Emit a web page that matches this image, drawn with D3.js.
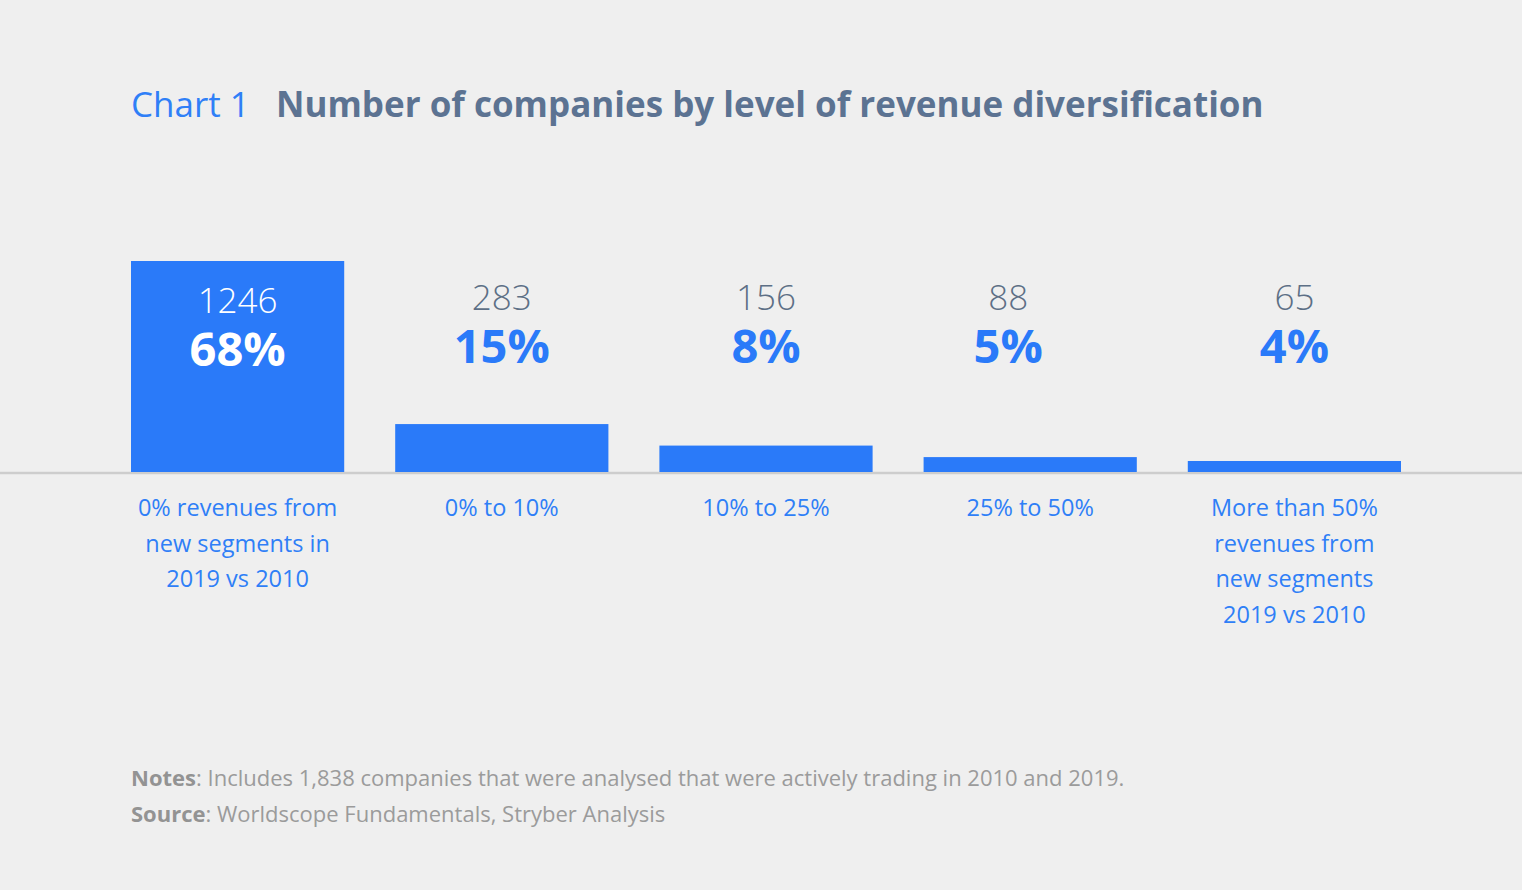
<!DOCTYPE html>
<html>
<head>
<meta charset="utf-8">
<script src="https://cdn.jsdelivr.net/npm/d3@7"></script>
<style>
  body { margin: 0; background: #efefef; }
  svg { display: block; font-family: 'Open Sans', sans-serif; }
</style>
</head>
<body>
<div id="chart"></div>
<script>
'use strict';

// data
const categories = [
  ['0% revenues from', 'new segments in', '2019 vs 2010'],
  ['0% to 10%'],
  ['10% to 25%'],
  ['25% to 50%'],
  ['More than 50%', 'revenues from', 'new segments', '2019 vs 2010']
];
const counts   = [1246, 283, 156, 88, 65];
const percents = ['68%', '15%', '8%', '5%', '4%'];

const W = 1522, H = 890;
const blue = '#2a7af9';

const svg = d3.select('#chart').append('svg')
  .attr('width', W)
  .attr('height', H);

svg.append('rect').attr('width', W).attr('height', H).attr('fill', '#efefef');

// title
const title = svg.append('text')
  .attr('x', 131)
  .attr('y', 117)
  .style('font-size', '35px');
title.append('tspan').attr('fill', '#2f7ff7').text('Chart 1');
title.append('tspan').attr('x', 276).attr('fill', '#5c7392')
  .style('font-weight', 700).text('Number of companies by level of revenue diversification');

// scales
const x = d3.scaleBand()
  .domain(d3.range(counts.length))
  .range([131, 1401])
  .paddingInner(0.193)
  .paddingOuter(0);

const y = d3.scaleLinear()
  .domain([0, d3.max(counts)])
  .range([472, 261]);

// baseline
svg.append('line')
  .attr('x1', 0).attr('x2', W)
  .attr('y1', 473).attr('y2', 473)
  .attr('stroke', '#cdcdcd')
  .attr('stroke-width', 2.5);

// bars
svg.append('g').selectAll('rect')
  .data(counts)
  .join('rect')
  .attr('x', (d, i) => x(i))
  .attr('y', d => y(d))
  .attr('width', x.bandwidth())
  .attr('height', d => y(0) - y(d))
  .attr('fill', blue);

// value labels above (or inside for the tall one)
const labelNudge = { 3: -22 };
const lg = svg.append('g').attr('text-anchor', 'middle');
counts.forEach((d, i) => {
  const inside = y(d) < 300;
  const cx = x(i) + x.bandwidth() / 2 + (labelNudge[i] || 0);
  const shift = inside ? 3 : 0;
  lg.append('text')
    .attr('x', cx)
    .attr('y', 310 + shift)
    .attr('fill', inside ? '#ffffff' : '#5d6f86')
    .style('font-size', '35px')
    .style('font-weight', 300)
    .text(d);
  lg.append('text')
    .attr('x', cx)
    .attr('y', 363 + shift)
    .attr('fill', inside ? '#ffffff' : blue)
    .style('font-size', '47px')
    .style('font-weight', 700)
    .text(percents[i]);
});

// category labels
const cg = svg.append('g').attr('text-anchor', 'middle');
categories.forEach((lines, i) => {
  const t = cg.append('text')
    .attr('fill', '#2f7ff7')
    .style('font-size', '23.5px');
  lines.forEach((line, j) => {
    t.append('tspan')
      .attr('x', x(i) + x.bandwidth() / 2)
      .attr('y', 516 + j * 35.7)
      .text(line);
  });
});

// notes
const notes = [
  ['Notes', ': Includes 1,838 companies that were analysed that were actively trading in 2010 and 2019.'],
  ['Source', ': Worldscope Fundamentals, Stryber Analysis']
];
notes.forEach((n, i) => {
  const t = svg.append('text')
    .attr('x', 131)
    .attr('y', 786 + i * 36)
    .attr('fill', '#9b9b9b')
    .style('font-size', '22px');
  t.append('tspan').style('font-weight', 700).attr('fill', '#939393').text(n[0]);
  t.append('tspan').text(n[1]);
});
</script>
</body>
</html>
